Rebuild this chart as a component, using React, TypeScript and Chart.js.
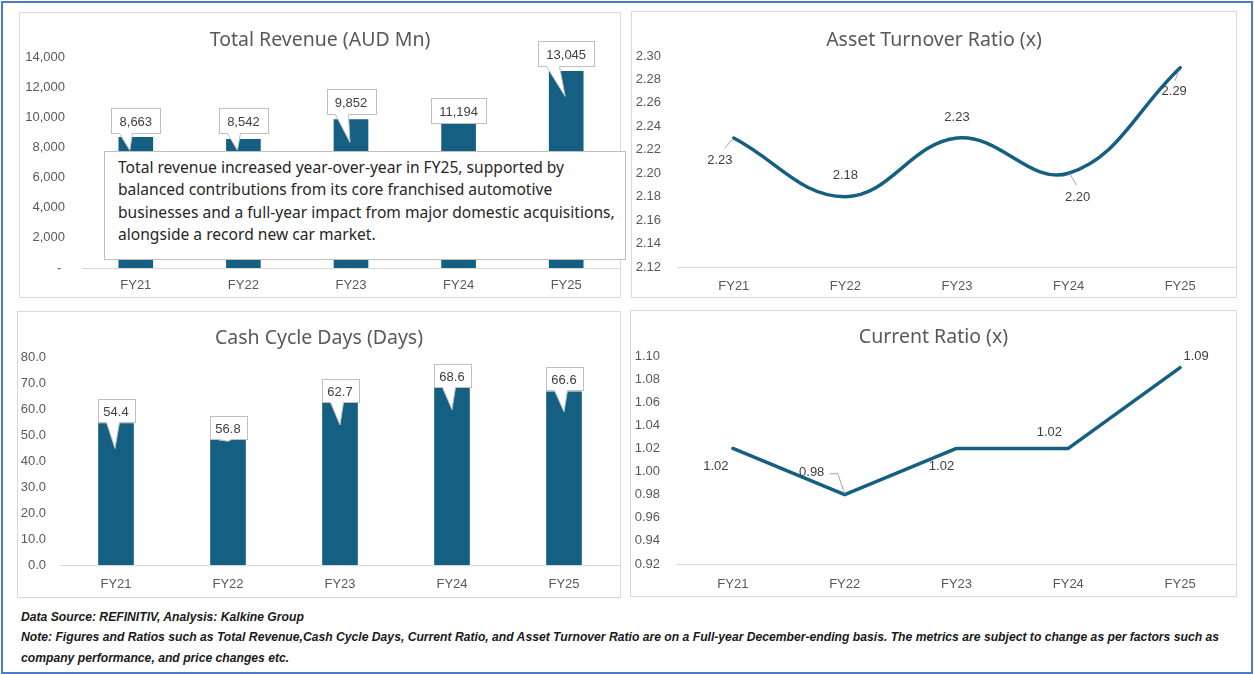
import React, { useEffect, useLayoutEffect, useRef, useState } from "react";
import { Chart, registerables } from "chart.js";

Chart.register(...registerables);

// ---------- data ----------
const categories = ["FY21", "FY22", "FY23", "FY24", "FY25"];
const revenue = [8663, 8542, 9852, 11194, 13045];
const cashCycleDays = [54.4, 56.8, 62.7, 68.6, 66.6];
const assetTurnover = [2.23, 2.18, 2.23, 2.2, 2.29];
const currentRatio = [1.02, 0.98, 1.02, 1.02, 1.09];

const revenueTicks = [0, 2000, 4000, 6000, 8000, 10000, 12000, 14000];
const cashTicks = [0, 10, 20, 30, 40, 50, 60, 70, 80];
const assetTicks = [2.12, 2.14, 2.16, 2.18, 2.2, 2.22, 2.24, 2.26, 2.28, 2.3];
const currentTicks = [0.92, 0.94, 0.96, 0.98, 1.0, 1.02, 1.04, 1.06, 1.08, 1.1];

const noteLines = [
  "Total revenue increased year-over-year in FY25, supported by",
  "balanced contributions from its core franchised automotive",
  "businesses and a full-year impact from major domestic acquisitions,",
  "alongside a record new car market.",
];
const footerLines = [
  "Data Source: REFINITIV, Analysis: Kalkine Group",
  "Note: Figures and Ratios such as Total Revenue,Cash Cycle Days, Current Ratio, and Asset Turnover Ratio are on a Full-year December-ending basis. The metrics are subject to change as per factors such as",
  "company performance, and price changes etc.",
];

// ---------- style ----------
const TEAL = "#156082";
const AXIS_TEXT = "#595959";
const LABEL_TEXT = "#404040";
const TICK_FONT = '"Liberation Sans", Arial, sans-serif';
const TITLE_FONT = '"Noto Sans", "Open Sans", sans-serif';

type CalloutPos = { gap: number; tipDx: number; tipDy: number };
type PlainPos = { dx: number; dy: number; leader?: number[][] };

const revenueCallouts: CalloutPos[] = [
  { gap: 4, tipDx: -6, tipDy: 13 },
  { gap: 6, tipDx: -6, tipDy: 11 },
  { gap: 6, tipDx: -1, tipDy: 23 },
  { gap: -24, tipDx: 0, tipDy: 0 },
  { gap: 5, tipDx: -1, tipDy: 25 },
];
const cashCallouts: CalloutPos[] = [
  { gap: 2, tipDx: -1, tipDy: 25 },
  { gap: -22, tipDx: 0, tipDy: 24 },
  { gap: 0, tipDx: 0, tipDy: 23 },
  { gap: 0, tipDx: 0, tipDy: 23 },
  { gap: 2, tipDx: 0, tipDy: 20 },
];
const assetLabelPos: PlainPos[] = [
  { dx: -14, dy: 22, leader: [[-9, 10], [-1, 1]] },
  { dx: 0, dy: -21 },
  { dx: 0, dy: -21 },
  { dx: 9, dy: 24, leader: [[1, 0], [8, 12]] },
  { dx: -6, dy: 24, leader: [[-2, 4], [-5, 13]] },
];
const currentLabelPos: PlainPos[] = [
  { dx: -17, dy: 18 },
  { dx: -33, dy: -22, leader: [[-15, -21], [-7, -21], [0, -1]] },
  { dx: -15, dy: 18 },
  { dx: -19, dy: -16 },
  { dx: 16, dy: -11 },
];

function calloutPlugin(texts: string[], pos: CalloutPos[], padX: number, boxH: number) {
  return {
    id: "callouts",
    afterDatasetsDraw(chart: any) {
      const ctx = chart.ctx;
      const meta = chart.getDatasetMeta(0);
      ctx.save();
      ctx.font = `13px ${TICK_FONT}`;
      meta.data.forEach((el: any, i: number) => {
        const p = pos[i];
        const t = texts[i];
        const w = Math.round(ctx.measureText(t).width + padX * 2);
        const cx = el.x;
        const bottom = Math.round(el.y - p.gap) + 0.5;
        const top = bottom - boxH;
        const left = Math.round(cx - w / 2) + 0.5;
        ctx.fillStyle = "#ffffff";
        ctx.strokeStyle = "#bfbfbf";
        ctx.lineWidth = 1;
        ctx.fillRect(left, top, w, boxH);
        ctx.strokeRect(left, top, w, boxH);
        if (p.tipDy !== 0) {
          const b0 = left + 8;
          const b1 = left + 21;
          const tx = cx + p.tipDx;
          const ty = el.y + p.tipDy;
          ctx.beginPath();
          ctx.moveTo(b0, bottom);
          ctx.lineTo(tx, ty);
          ctx.lineTo(b1, bottom);
          ctx.closePath();
          ctx.fill();
          ctx.fillRect(b0 + 0.5, bottom - 1, b1 - b0 - 1, 2);
          ctx.beginPath();
          ctx.moveTo(b0, bottom);
          ctx.lineTo(tx, ty);
          ctx.lineTo(b1, bottom);
          ctx.stroke();
        }
        ctx.fillStyle = LABEL_TEXT;
        ctx.textAlign = "center";
        ctx.textBaseline = "middle";
        ctx.fillText(t, cx, top + boxH / 2 + 1);
      });
      ctx.restore();
    },
  };
}

function pointLabelPlugin(texts: string[], pos: PlainPos[]) {
  return {
    id: "pointLabels",
    afterDatasetsDraw(chart: any) {
      const ctx = chart.ctx;
      const meta = chart.getDatasetMeta(0);
      ctx.save();
      ctx.font = `13px ${TICK_FONT}`;
      meta.data.forEach((el: any, i: number) => {
        const p = pos[i];
        if (p.leader) {
          ctx.strokeStyle = "#a6a6a6";
          ctx.lineWidth = 1;
          ctx.beginPath();
          p.leader.forEach((pt, k) => {
            const x = el.x + pt[0];
            const y = el.y + pt[1];
            if (k === 0) ctx.moveTo(x, y);
            else ctx.lineTo(x, y);
          });
          ctx.stroke();
        }
        ctx.fillStyle = LABEL_TEXT;
        ctx.textAlign = "center";
        ctx.textBaseline = "middle";
        ctx.fillText(texts[i], el.x + p.dx, el.y + p.dy);
      });
      ctx.restore();
    },
  };
}

function scales(opts: {
  min: number;
  max: number;
  ticks: number[];
  fmt: (v: number) => string;
  yWidth: number;
  yPad: number;
  xHeight: number;
  xPad: number;
  offset: boolean;
}) {
  const tickFont = { family: TICK_FONT, size: 13 };
  return {
    x: {
      offset: opts.offset,
      grid: { display: false, drawTicks: false },
      border: { display: true, color: "#d9d9d9", width: 1 },
      ticks: { color: AXIS_TEXT, font: tickFont, padding: opts.xPad, maxRotation: 0, autoSkip: false },
      afterFit: (s: any) => {
        s.height = opts.xHeight;
      },
    },
    y: {
      min: opts.min,
      max: opts.max,
      grid: { display: false, drawTicks: false },
      border: { display: false },
      ticks: {
        color: AXIS_TEXT,
        font: tickFont,
        padding: opts.yPad,
        callback: (v: any) => opts.fmt(Number(v)),
      },
      afterBuildTicks: (s: any) => {
        s.ticks = opts.ticks.map((value) => ({ value }));
      },
      afterFit: (s: any) => {
        s.width = opts.yWidth;
      },
    },
  };
}

const commonPlugins = { legend: { display: false }, tooltip: { enabled: false }, title: { display: false } };

function revenueConfig(): any {
  return {
    type: "bar",
    data: {
      labels: categories,
      datasets: [{ data: revenue, backgroundColor: TEAL, barThickness: 34 }],
    },
    options: {
      responsive: false,
      animation: false,
      layout: { padding: { top: 44, left: 0, right: 0, bottom: 0 } },
      plugins: commonPlugins,
      scales: scales({
        min: 0,
        max: 14000,
        ticks: revenueTicks,
        fmt: (v) => (v === 0 ? "- " : v.toLocaleString("en-US")),
        yWidth: 62,
        yPad: 17,
        xHeight: 29,
        xPad: 10,
        offset: true,
      }),
    },
    plugins: [calloutPlugin(revenue.map((v) => v.toLocaleString("en-US")), revenueCallouts, 8, 25)],
  };
}

function cashConfig(): any {
  return {
    type: "bar",
    data: {
      labels: categories,
      datasets: [{ data: cashCycleDays, backgroundColor: TEAL, barThickness: 35 }],
    },
    options: {
      responsive: false,
      animation: false,
      layout: { padding: { top: 45, left: 0, right: 0, bottom: 0 } },
      plugins: commonPlugins,
      scales: scales({
        min: 0,
        max: 80,
        ticks: cashTicks,
        fmt: (v) => v.toFixed(1),
        yWidth: 42,
        yPad: 14,
        xHeight: 32,
        xPad: 12,
        offset: true,
      }),
    },
    plugins: [calloutPlugin(cashCycleDays.map((v) => v.toFixed(1)), cashCallouts, 6, 23)],
  };
}

function assetConfig(): any {
  return {
    type: "line",
    data: {
      labels: categories,
      datasets: [
        {
          data: assetTurnover,
          borderColor: TEAL,
          borderWidth: 3.5,
          pointRadius: 0,
          tension: 0.4,
          fill: false,
          borderCapStyle: "round",
        },
      ],
    },
    options: {
      responsive: false,
      animation: false,
      layout: { padding: { top: 44, left: 0, right: 0, bottom: 0 } },
      plugins: commonPlugins,
      scales: scales({
        min: 2.12,
        max: 2.3,
        ticks: assetTicks,
        fmt: (v) => v.toFixed(2),
        yWidth: 46,
        yPad: 17,
        xHeight: 30,
        xPad: 12,
        offset: true,
      }),
    },
    plugins: [pointLabelPlugin(assetTurnover.map((v) => v.toFixed(2)), assetLabelPos)],
  };
}

function currentConfig(): any {
  return {
    type: "line",
    data: {
      labels: categories,
      datasets: [
        {
          data: currentRatio,
          borderColor: TEAL,
          borderWidth: 3.5,
          pointRadius: 0,
          tension: 0,
          fill: false,
          borderCapStyle: "round",
          borderJoinStyle: "round",
        },
      ],
    },
    options: {
      responsive: false,
      animation: false,
      layout: { padding: { top: 45, left: 0, right: 0, bottom: 0 } },
      plugins: commonPlugins,
      scales: scales({
        min: 0.92,
        max: 1.1,
        ticks: currentTicks,
        fmt: (v) => v.toFixed(2),
        yWidth: 46,
        yPad: 17,
        xHeight: 32,
        xPad: 13,
        offset: true,
      }),
    },
    plugins: [pointLabelPlugin(currentRatio.map((v) => v.toFixed(2)), currentLabelPos)],
  };
}

function ChartCanvas({ left, top, width, height, build }: { left: number; top: number; width: number; height: number; build: () => any }) {
  const ref = useRef<HTMLCanvasElement>(null);
  useEffect(() => {
    const chart = new Chart(ref.current as HTMLCanvasElement, build());
    return () => chart.destroy();
  }, []);
  return (
    <canvas
      ref={ref}
      width={width}
      height={height}
      style={{ position: "absolute", left, top, width, height, display: "block" }}
    />
  );
}

function Panel({
  left,
  top,
  width,
  height,
  title,
  titleCenterY,
  build,
}: {
  left: number;
  top: number;
  width: number;
  height: number;
  title: string;
  titleCenterY: number;
  build: () => any;
}) {
  return (
    <>
      <div
        style={{
          position: "absolute",
          left,
          top,
          width,
          height,
          boxSizing: "border-box",
          border: "1px solid #d9d9d9",
          background: "#fff",
        }}
      />
      <ChartCanvas left={left + 1} top={top + 1} width={width - 2} height={height - 2} build={build} />
      <div
        style={{
          position: "absolute",
          left,
          width,
          top: titleCenterY - 13,
          height: 26,
          lineHeight: "26px",
          textAlign: "center",
          fontFamily: TITLE_FONT,
          fontSize: 19.5,
          color: AXIS_TEXT,
          whiteSpace: "nowrap",
        }}
      >
        {title}
      </div>
    </>
  );
}

function Footer() {
  const lineRef = useRef<HTMLSpanElement>(null);
  const [scale, setScale] = useState(0.93);
  useLayoutEffect(() => {
    const el = lineRef.current;
    if (el) {
      const w = el.getBoundingClientRect().width / scale;
      if (w > 0) setScale(1198 / w);
    }
  }, []);
  const tops = [617, 637, 658];
  return (
    <>
      {footerLines.map((l, i) => (
        <div
          key={i}
          style={{
            position: "absolute",
            left: 21,
            top: tops[i] - 8,
            height: 16,
            lineHeight: "16px",
            fontFamily: '"Liberation Sans", Arial, sans-serif',
            fontWeight: "bold",
            fontStyle: "italic",
            fontSize: 13,
            color: "#1a1a1a",
            whiteSpace: "nowrap",
            transform: `scaleX(${scale})`,
            transformOrigin: "0 50%",
          }}
        >
          <span ref={i === 1 ? lineRef : undefined}>{l}</span>
        </div>
      ))}
    </>
  );
}

export default function App() {
  return (
    <div
      style={{
        position: "absolute",
        left: 0,
        top: 0,
        width: 1254,
        height: 674,
        background: "#fff",
        overflow: "hidden",
      }}
    >
      <div
        style={{
          position: "absolute",
          left: 1,
          top: 1,
          width: 1252,
          height: 673,
          boxSizing: "border-box",
          border: "2px solid #4f7ac7",
        }}
      />
      <Panel left={19} top={12} width={602} height={286} title="Total Revenue (AUD Mn)" titleCenterY={39} build={revenueConfig} />
      <Panel left={631} top={11} width={606} height={287} title="Asset Turnover Ratio (x)" titleCenterY={39} build={assetConfig} />
      <Panel left={17} top={311} width={604} height={287} title="Cash Cycle Days (Days)" titleCenterY={337} build={cashConfig} />
      <Panel left={630} top={310} width={607} height={287} title="Current Ratio (x)" titleCenterY={336} build={currentConfig} />

      <div
        style={{
          position: "absolute",
          left: 104,
          top: 151,
          width: 522,
          height: 109,
          boxSizing: "border-box",
          border: "1px solid #bfbfbf",
          background: "#fff",
          padding: "4px 0 0 13px",
          fontFamily: TITLE_FONT,
          fontSize: 15.6,
          lineHeight: "22.3px",
          color: "#262626",
          whiteSpace: "nowrap",
        }}
      >
        {noteLines.map((l, i) => (
          <div key={i}>{l}</div>
        ))}
      </div>

      <Footer />
    </div>
  );
}
